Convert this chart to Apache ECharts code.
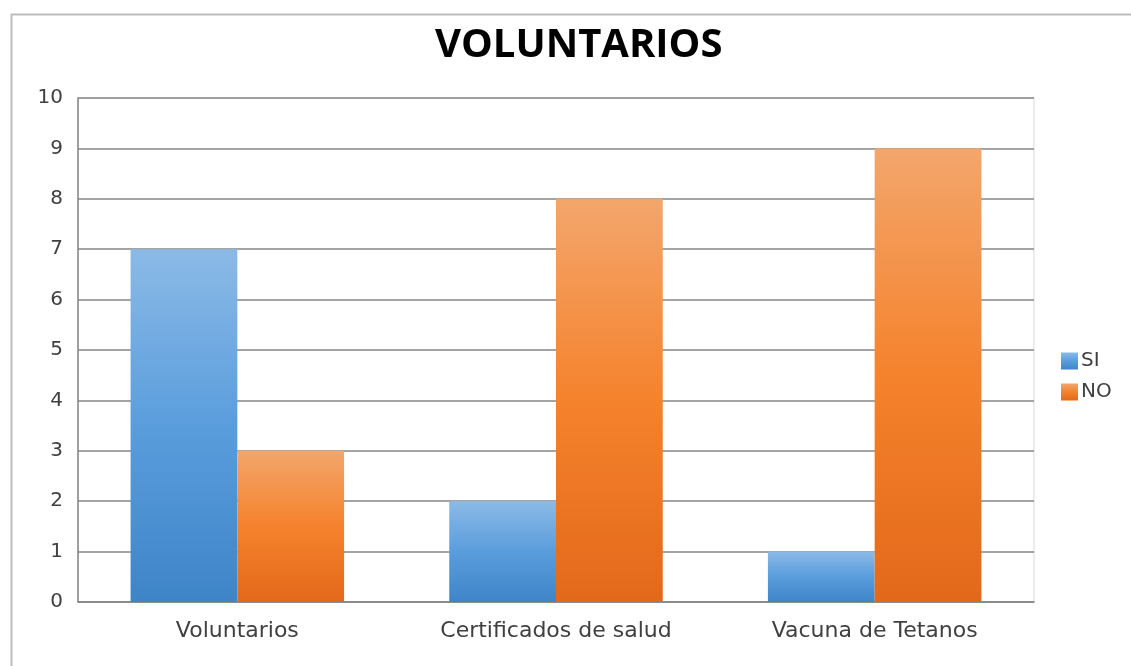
<!DOCTYPE html>
<html>
<head>
<meta charset="utf-8">
<script src="https://cdn.jsdelivr.net/npm/echarts@6/dist/echarts.min.js"></script>
<style>
  html, body { margin: 0; padding: 0; background: #fff; }
  #chart { width: 1131px; height: 666px; }
</style>
</head>
<body>
<div id="chart"></div>
<script>
// Categories and values
const categories = ['Voluntarios', 'Certificados de salud', 'Vacuna de Tetanos'];
const siValues = [7, 2, 1];
const noValues = [3, 8, 9];
const yTicks = [0, 1, 2, 3, 4, 5, 6, 7, 8, 9, 10];

const titleFont = '"Open Sans", "Noto Sans", sans-serif';
const labelFont = '"DejaVu Sans", "Noto Sans", sans-serif';

function grad(top, mid, bottom) {
  return new echarts.graphic.LinearGradient(0, 0, 0, 1, [
    { offset: 0, color: top },
    { offset: 0.5, color: mid },
    { offset: 1, color: bottom }
  ]);
}

const chart = echarts.init(document.getElementById('chart'), null, { renderer: 'canvas' });

chart.setOption({
  animation: false,
  backgroundColor: '#ffffff',
  title: {
    text: 'VOLUNTARIOS',
    left: 430,
    top: 21,
    textStyle: { fontFamily: titleFont, fontWeight: 'bold', fontSize: 40, color: '#000000' }
  },
  graphic: [{
    type: 'rect',
    shape: { x: 11.5, y: 14.5, width: 1140, height: 700 },
    style: { fill: 'none', stroke: '#bdbdbd', lineWidth: 2 },
    silent: true
  }],
  legend: {
    orient: 'vertical',
    left: 1056,
    top: 346,
    itemWidth: 17,
    itemHeight: 17,
    itemGap: 11,
    icon: 'rect',
    textStyle: { fontFamily: labelFont, fontSize: 20, color: '#404040', padding: [0, 0, 0, -2] },
    data: ['SI', 'NO']
  },
  grid: { left: 78, top: 98, right: 97, bottom: 64, show: true, borderColor: '#d9d9d9', borderWidth: 1 },
  xAxis: {
    type: 'category',
    data: categories,
    axisLine: { lineStyle: { color: '#868686', width: 1.5 } },
    axisTick: { show: false },
    axisLabel: { fontFamily: labelFont, fontSize: 22, color: '#404040', margin: 18 }
  },
  yAxis: {
    type: 'value',
    min: yTicks[0],
    max: yTicks[yTicks.length - 1],
    interval: 1,
    axisLine: { show: true, lineStyle: { color: '#868686', width: 1.5 } },
    axisTick: { show: false },
    splitLine: { lineStyle: { color: '#868686', width: 1.5 } },
    axisLabel: { fontFamily: labelFont, fontSize: 20, color: '#404040', margin: 15 }
  },
  series: [
    {
      name: 'SI',
      type: 'bar',
      data: siValues,
      barGap: '0%',
      barCategoryGap: '33%',
      itemStyle: { color: grad('#8bbae6', '#5a9ddd', '#3e85c7') }
    },
    {
      name: 'NO',
      type: 'bar',
      data: noValues,
      itemStyle: { color: grad('#f3a66c', '#f5822c', '#e2691a') }
    }
  ]
});
</script>
</body>
</html>
